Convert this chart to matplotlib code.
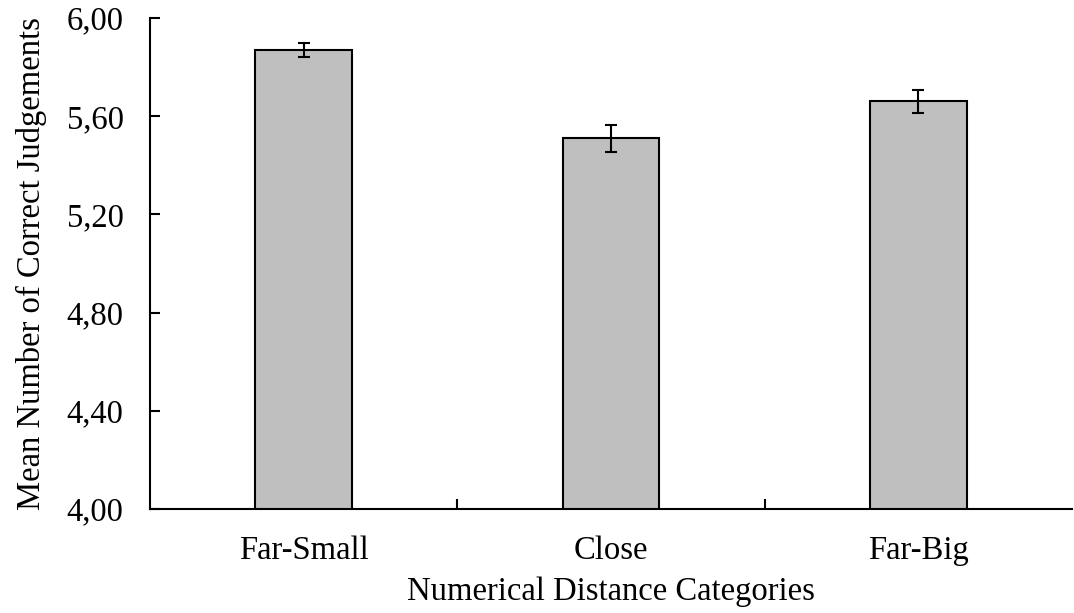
import matplotlib
matplotlib.use('Agg')
import matplotlib.pyplot as plt
import numpy as np
from matplotlib.ticker import FuncFormatter

categories = ['Far-Small', 'Close', 'Far-Big']
means = [5.87, 5.51, 5.66]
errors = [0.027, 0.054, 0.046]
y_ticks = [4.00, 4.40, 4.80, 5.20, 5.60, 6.00]

plt.rcParams['font.family'] = ['Liberation Serif', 'DejaVu Serif']

fig = plt.figure(figsize=(10.74, 6.13), dpi=100)
ax = fig.add_axes([0.1397, 0.1697, 0.8583, 0.8009])

x = np.arange(len(categories))
ax.bar(x, means, width=0.315, color='#bfbfbf', edgecolor='black', linewidth=1.5, zorder=2)
ax.errorbar(x, means, yerr=errors, fmt='none', ecolor='black', elinewidth=1.5,
            capsize=4.5, capthick=1.5, zorder=3)

ax.set_xlim(-0.5, len(categories) - 0.5)
ax.set_ylim(4.0, 6.0)
ax.set_yticks(y_ticks)
ax.yaxis.set_major_formatter(FuncFormatter(lambda v, p: f'{v:.2f}'.replace('.', ',')))

# category labels centred, tick marks on the boundaries
ax.set_xticks(x)
ax.set_xticklabels(categories)
ax.tick_params(axis='x', which='major', length=0, labelsize=23.5, pad=19)
ax.set_xticks(np.arange(0.5, len(categories) - 0.5, 1.0), minor=True)
ax.tick_params(axis='x', which='minor', direction='in', length=7, width=1.5)
ax.tick_params(axis='y', direction='in', length=7, width=1.5, labelsize=23.5, pad=19)

for side in ['top', 'right']:
    ax.spines[side].set_visible(False)
for side in ['left', 'bottom']:
    ax.spines[side].set_linewidth(1.5)

ax.set_xlabel('Numerical Distance Categories', fontsize=23.5, labelpad=8)
ax.set_ylabel('Mean Number of Correct Judgements', fontsize=23.5, labelpad=14)

fig.savefig('out.png', dpi=100)
